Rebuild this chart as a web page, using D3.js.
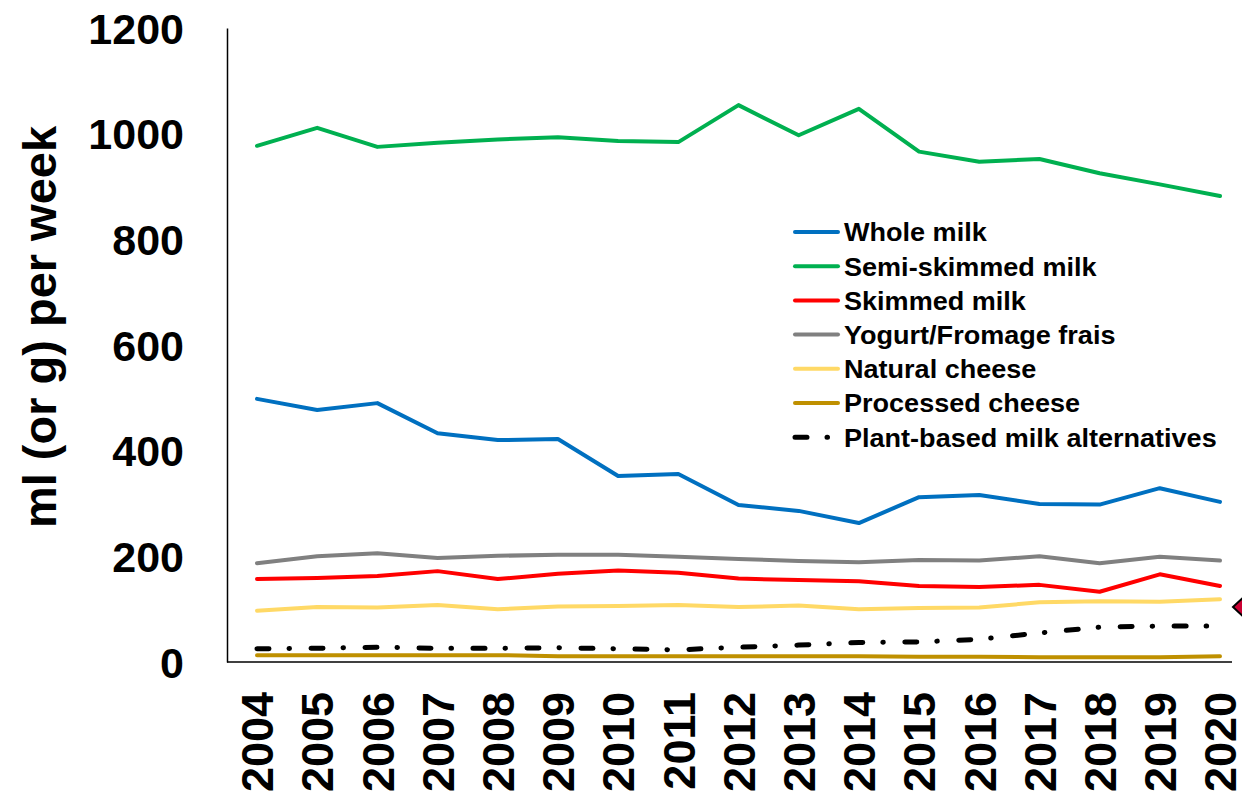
<!DOCTYPE html>
<html>
<head>
<meta charset="utf-8">
<script src="https://cdn.jsdelivr.net/npm/d3@7"></script>
<style>
  html, body { margin: 0; padding: 0; background: #fff; }
  svg { display: block; }
  text { font-family: "Liberation Sans", Arial, sans-serif; font-weight: bold; fill: #000; }
</style>
</head>
<body>
<svg id="chart" width="1242" height="800"></svg>
<script>
const years = [2004,2005,2006,2007,2008,2009,2010,2011,2012,2013,2014,2015,2016,2017,2018,2019,2020];
const yTicks = [0,200,400,600,800,1000,1200];

const wholeMilk     = [498,477,490,433,420,422,352,356,297,286,263,312,316,299,298,329,303];
const semiSkimmed   = [977,1011,975,983,989,993,986,984,1054,997,1047,966,947,952,925,904,882];
const skimmedMilk   = [157,159,163,172,157,167,173,169,158,155,153,144,142,146,133,166,144];
const yogurt        = [187,200,206,197,201,203,203,199,195,191,189,193,192,200,187,199,192];
const naturalCheese = [97,104,103,108,100,105,106,108,104,107,100,102,103,113,115,114,119];
const processed     = [13,13,13,13,13,11,11,11,11,11,11,10,10,9,9,9,11];
const plantBased    = [25,26,28,26,26,27,25,23,28,32,37,38,43,55,66,68,68];

const seriesNames  = ["Whole milk","Semi-skimmed milk","Skimmed milk","Yogurt/Fromage frais","Natural cheese","Processed cheese","Plant-based milk alternatives"];
const seriesValues = [wholeMilk, semiSkimmed, skimmedMilk, yogurt, naturalCheese, processed, plantBased];
const seriesColors = ["#0070C0","#00B050","#FF0000","#808080","#FFD966","#BF9000","#000000"];
const seriesDash   = [null,null,null,null,null,null,"12,20,0.5,21.5"];

const svg = d3.select("#chart");

const x = d3.scalePoint().domain(years).range([257, 1220]);
const y = d3.scaleLinear().domain([0, 1200]).range([662, 28]);

// axes
const yAxis = d3.axisLeft(y).tickValues(yTicks).tickSize(0).tickPadding(43).tickFormat(d3.format("d"));
const gy = svg.append("g").attr("transform", "translate(227,0)").call(yAxis);
gy.select(".domain").attr("stroke", "#000").attr("stroke-width", 1.5);
gy.selectAll("text").style("font-size", "43px").attr("dy", "0.35em");

const xAxis = d3.axisBottom(x).tickSize(0).tickFormat(d3.format("d"));
const gx = svg.append("g").attr("transform", "translate(0,662)").call(xAxis);
gx.select(".domain").attr("d", "M227,0H1232").attr("stroke", "#000").attr("stroke-width", 1.5);
gx.selectAll("text")
  .style("font-size", "45px")
  .attr("text-anchor", "end")
  .attr("transform", "translate(0,30) rotate(-90)")
  .attr("x", 0).attr("y", 0).attr("dy", "0.35em");

// y title
svg.append("text")
  .attr("transform", "translate(40,327) rotate(-90)")
  .attr("text-anchor", "middle")
  .attr("dy", "0.35em")
  .style("font-size", "47px")
  .text("ml (or g) per week");

// lines
const line = d3.line().x((d, i) => x(years[i])).y(d => y(d));
const order = [6,5,4,2,3,0,1];
order.forEach(k => {
  svg.append("path")
    .datum(seriesValues[k])
    .attr("d", line)
    .attr("fill", "none")
    .attr("stroke", seriesColors[k])
    .attr("stroke-width", k === 6 ? 5 : 4)
    .attr("stroke-linejoin", "round")
    .attr("stroke-linecap", "round")
    .attr("stroke-dasharray", seriesDash[k]);
});

// legend
const legend = svg.append("g");
seriesNames.forEach((name, i) => {
  const ly = 232 + i * 34.2;
  legend.append("line")
    .attr("x1", 795).attr("x2", i === 6 ? 832 : 838)
    .attr("y1", ly).attr("y2", ly)
    .attr("stroke", seriesColors[i])
    .attr("stroke-width", i === 6 ? 5 : 4)
    .attr("stroke-linecap", "round")
    .attr("stroke-dasharray", i === 6 ? "12,20,0.5,21.5" : null);
  legend.append("text")
    .attr("x", 844).attr("y", ly).attr("dy", "0.36em")
    .style("font-size", "26px")
    .attr("textLength", null)
    .text(name);
});
// stretch legend texts slightly to match reference widths
legend.selectAll("text").each(function() {
  const w = this.getComputedTextLength();
  d3.select(this).attr("textLength", w * 1.04).attr("lengthAdjust", "spacingAndGlyphs");
});

// marker at right edge
const mx = 1249, my = y(104);
svg.append("path")
  .attr("d", `M${mx-16},${my} L${mx},${my-15} L${mx+16},${my} L${mx},${my+15} Z`)
  .attr("fill", "#CC0033")
  .attr("stroke", "#000")
  .attr("stroke-width", 2);
</script>
</body>
</html>
